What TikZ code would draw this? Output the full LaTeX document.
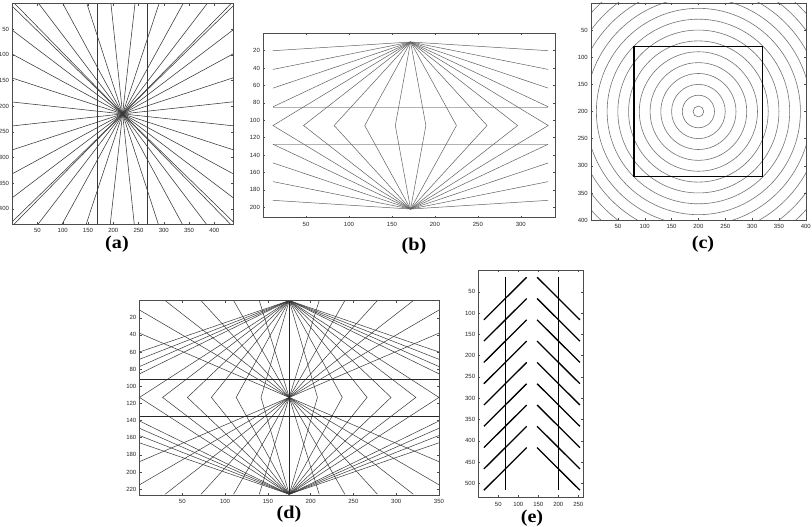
\documentclass[tikz,border=0pt]{standalone}
\usepackage{fontspec}
\setmainfont{Liberation Serif}
\setsansfont{Liberation Sans}
\tikzset{
  frame/.style={draw=black!70, line width=0.5pt},
  tickmark/.style={draw=black!70, line width=0.4pt},
  ticklab/.style={font=\sffamily\fontsize{6}{6}\selectfont, inner sep=0pt, text=black!85},
  capt/.style={font=\bfseries\fontsize{18}{18}\selectfont, inner sep=0pt, xscale=1.12},
  raya/.style={draw=black!78, line width=0.55pt},
  rayb/.style={draw=black!62, line width=0.5pt},
  hlineb/.style={draw=black!30, line width=0.5pt},
  circc/.style={draw=black!55, line width=0.6pt},
  sqc/.style={draw=black, line width=1.3pt},
  rayd/.style={draw=black!78, line width=0.5pt},
  bard/.style={draw=black!85, line width=0.8pt},
  stroke/.style={draw=black, line width=1.3pt},
}
\newcommand\panelaxes[5][4pt]{%
  \draw[frame] (0,0) rectangle (#2,#3);
  \foreach \t in {#4} {
    \draw[tickmark] (\t,#3) -- ++(0pt,2pt);
    \draw[tickmark] (\t,0) -- ++(0pt,-2pt);
    \node[ticklab, anchor=north, yshift=-#1] at (\t,#3) {\t};
  }
  \foreach \t in {#5} {
    \draw[tickmark] (0,\t) -- ++(2pt,0pt);
    \draw[tickmark] (#2,\t) -- ++(-2pt,0pt);
    \node[ticklab, anchor=east, xshift=-3pt] at (0,\t) {\t};
  }
}
\begin{document}
\begin{tikzpicture}[x=1pt, y=-1pt]
\useasboundingbox[fill=white] (0,0) rectangle (812,527);

% ---------------- (a)
\begin{scope}[shift={(12.2,3.6)}, x=0.5053pt, y=-0.513pt]
  \foreach \k in {0,...,9} {
    \pgfmathsetmacro\xx{5+47.6*\k}
    \draw[raya] (\xx,0) -- (437-\xx,430);
    \pgfmathsetmacro\yy{5+46.7*\k}
    \draw[raya] (0,\yy) -- (437,430-\yy);
  }
  \draw[raya, line width=0.8pt] (169,0) -- (169,430);
  \draw[raya, line width=0.8pt] (268,0) -- (268,430);
  \panelaxes{437}{430}{50,100,...,400}{50,100,...,400}
\end{scope}
\node[capt] (capa) at (117,244) {(a)};

% ---------------- (b)
\begin{scope}[shift={(263.1,33.3)}, x=0.859pt, y=-0.870pt]
  \coordinate (bT) at (171.7,10);
  \coordinate (bB) at (171.7,202);
  \draw[hlineb] (11.5,85) -- (331.9,85);
  \draw[hlineb] (11.5,127.5) -- (331.9,127.5);
  \foreach \k in {0,...,9} {
    \pgfmathsetmacro\xx{11.5+35.6*\k}
    \draw[rayb] (bT) -- (\xx,106) -- (bB);
  }
  \foreach \y in {20,41.5,63,84.5} {
    \draw[rayb] (11.5,\y) -- (bT) -- (331.9,\y);
  }
  \foreach \y in {127.5,149,170.5,192} {
    \draw[rayb] (11.5,\y) -- (bB) -- (331.9,\y);
  }
  \panelaxes{340}{212}{50,100,...,300}{20,40,...,200}
\end{scope}
\node[capt] (capb) at (414,246) {(b)};

% ---------------- (c)
\begin{scope}[shift={(591,2.9)}, x=0.537pt, y=-0.543pt]
  \begin{scope}
    \clip (0,0) rectangle (400,400);
    \foreach \r in {10,30,...,290} {
      \draw[circc] (200,200) circle [x radius=\r, y radius=\r];
    }
  \end{scope}
  \draw[sqc] (80,80) rectangle (320,320);
  \panelaxes{400}{400}{50,100,...,400}{50,100,...,400}
\end{scope}
\node[capt] (capc) at (703,244) {(c)};

% ---------------- (d)
\begin{scope}[shift={(139.5,300.6)}, x=0.8556pt, y=-0.8567pt]
  \coordinate (dT) at (175,0);
  \coordinate (dM) at (175,113);
  \coordinate (dB) at (175,226);
  \foreach \xx in {0,27,56,84,113,142,208,237,266,294,323,350} {
    \draw[rayd] (dT) -- (\xx,113) -- (dB);
  }
  \foreach \y in {60,68.5,77,85.5} {
    \draw[rayd] (0,\y) -- (dT) -- (350,\y);
    \draw[rayd] (0,226-\y) -- (dB) -- (350,226-\y);
  }
  \foreach \xx in {30,72,110,140,210,240,278,320} {
    \draw[rayd] (\xx,0) -- (350-\xx,226);
  }
  \foreach \y in {11,38} {
    \draw[rayd] (0,\y) -- (350,226-\y);
    \draw[rayd] (350,\y) -- (0,226-\y);
  }
  \draw[bard] (dT) -- (dB);
  \draw[bard] (0,92) -- (350,92);
  \draw[bard] (0,135) -- (350,135);
  \draw[draw=black!45, line width=1.2pt] (0,0) -- (350,0);
  \panelaxes{350}{227}{50,100,...,350}{20,40,...,220}
\end{scope}
\node[capt] (capd) at (289,514) {(d)};

% ---------------- (e)
\begin{scope}[shift={(478.3,270.4)}, x=0.4pt, y=-0.426pt]
  \foreach \j in {0,...,8} {
    \draw[stroke] (14,116+50*\j) -- (121,16+50*\j);
    \draw[stroke] (147,16+50*\j) -- (254,116+50*\j);
  }
  \draw[stroke, line width=1.5pt] (68,16) -- (68,516);
  \draw[stroke, line width=1.5pt] (200,16) -- (200,516);
  \panelaxes[5pt]{262}{532}{50,100,...,250}{50,100,...,500}
\end{scope}
\node[capt] (cape) at (532,518) {(e)};
\end{tikzpicture}
\end{document}
